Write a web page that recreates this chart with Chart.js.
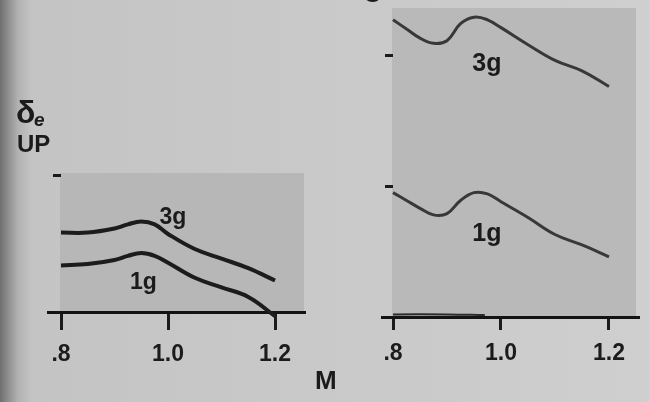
<!DOCTYPE html>
<html>
<head>
<meta charset="utf-8">
<script src="https://cdn.jsdelivr.net/npm/chart.js@4.4.1/dist/chart.umd.min.js"></script>
<style>
  html, body { margin: 0; padding: 0; }
  body {
    width: 649px; height: 402px; overflow: hidden; position: relative;
    background: linear-gradient(90deg, #6f6f6f 0px, #8e8e8e 8px, #b2b2b2 18px, #c4c4c4 32px, #cacaca 60%, #cfcfcf 100%);
    font-family: "Liberation Sans", Arial, sans-serif; color: #1b1b1b;
  }
  canvas { position: absolute; left: 0; top: 0; }
  .txt { position: absolute; font-weight: bold; line-height: 1; white-space: nowrap; }
</style>
</head>
<body>
<canvas id="leftChart" width="649" height="402"></canvas>
<canvas id="rightChart" width="649" height="402"></canvas>

<div class="txt" style="left:16px; top:96px; font-size:32px;">δ</div>
<div class="txt" style="left:34px; top:110px; font-size:19px; font-style:italic;">e</div>
<div class="txt" style="left:17px; top:132px; font-size:24px;">UP</div>
<div class="txt" style="left:363px; top:-25px; font-size:32px;">δ</div>
<div class="txt" style="left:315px; top:367px; font-size:26px;">M</div>

<script>
  // Mach number ticks shared by both panels
  var xTicks = [0.8, 1.0, 1.2];
  var xTickLabels = ['.8', '1.0', '1.2'];

  // left panel (elevator up, 1g / 3g)
  var leftMach = [0.8, 0.85, 0.9, 0.925, 0.95, 0.975, 1.0, 1.05, 1.1, 1.15, 1.2];
  var left3g = [5.8, 5.8, 6.1, 6.4, 6.6, 6.4, 5.7, 4.6, 3.9, 3.2, 2.3];
  var left1g = [3.4, 3.5, 3.8, 4.1, 4.3, 4.1, 3.6, 2.5, 1.8, 1.1, -0.3];
  var leftYTicks = [10];

  // right panel
  var rightMach = [0.8, 0.825, 0.85, 0.875, 0.9, 0.925, 0.95, 0.975, 1.0, 1.05, 1.1, 1.15, 1.2];
  var right3g = [22.7, 22.0, 21.3, 20.9, 21.1, 22.4, 22.9, 22.7, 22.1, 20.8, 19.6, 18.8, 17.6];
  var right1g = [9.5, 8.9, 8.3, 7.8, 7.9, 8.9, 9.5, 9.4, 8.8, 7.6, 6.3, 5.5, 4.6];
  var rightTraceMach = [0.8, 0.9, 0.97];
  var rightTrace = [0.2, 0.2, 0.15];
  var rightYTicks = [10, 20];

  var ink = '#1b1b1b';

  function points(xs, ys) {
    return xs.map(function (x, i) { return { x: x, y: ys[i] }; });
  }

  // shaded plotting panel, starts at M = .8
  var panelShade = {
    id: 'panelShade',
    beforeDraw: function (chart, args, opts) {
      var ctx = chart.ctx, area = chart.chartArea;
      var x0 = Math.round(chart.scales.x.getPixelForValue(0.8)) - 1;
      ctx.save();
      ctx.fillStyle = opts.color;
      ctx.fillRect(x0, area.top, area.right - opts.inset - x0, area.bottom - area.top - 1);
      ctx.restore();
    }
  };

  var seriesLabels = {
    id: 'seriesLabels',
    afterDatasetsDraw: function (chart, args, opts) {
      var ctx = chart.ctx, xs = chart.scales.x, ys = chart.scales.y;
      ctx.save();
      ctx.font = 'bold ' + opts.size + 'px "Liberation Sans", Arial, sans-serif';
      ctx.fillStyle = ink;
      ctx.textAlign = 'center';
      ctx.textBaseline = 'alphabetic';
      opts.items.forEach(function (it) {
        ctx.fillText(it.text, xs.getPixelForValue(it.x), ys.getPixelForValue(it.y));
      });
      ctx.restore();
    }
  };

  function makePanel(id, cfg) {
    return new Chart(document.getElementById(id), {
      type: 'line',
      data: { datasets: cfg.datasets },
      plugins: [panelShade, seriesLabels],
      options: {
        responsive: false,
        animation: false,
        layout: { padding: cfg.padding },
        elements: { point: { radius: 0 }, line: { tension: 0.4 } },
        plugins: {
          legend: { display: false },
          tooltip: { enabled: false },
          panelShade: { color: cfg.shade, inset: cfg.inset },
          seriesLabels: { size: cfg.labelSize, items: cfg.labels }
        },
        scales: {
          x: {
            type: 'linear',
            min: cfg.xMin,
            max: cfg.xMax,
            afterBuildTicks: function (s) { s.ticks = xTicks.map(function (v) { return { value: v }; }); },
            afterFit: function (s) { s.height = 60; },
            ticks: {
              autoSkip: false,
              maxRotation: 0,
              padding: cfg.xTickPad,
              color: ink,
              font: { family: '"Liberation Sans", Arial, sans-serif', size: 23, weight: 'bold' },
              callback: function (v, i) { return xTickLabels[i]; }
            },
            grid: { drawOnChartArea: false, tickLength: cfg.xTickLen, tickWidth: 3, color: ink },
            border: { color: '#131313', width: 3 }
          },
          y: {
            type: 'linear',
            axis: 'y',
            position: { x: 0.8 },
            min: 0,
            max: cfg.yMax,
            afterBuildTicks: function (s) { s.ticks = cfg.yTicks.map(function (v) { return { value: v }; }); },
            ticks: { display: false },
            grid: { drawOnChartArea: false, tickLength: 8, tickWidth: 3, color: ink },
            border: { display: false }
          }
        }
      }
    });
  }

  makePanel('leftChart', {
    padding: { left: 48, right: 344, top: 173, bottom: 30 },
    xMin: 0.7757, xMax: 1.256, yMax: 10.15,
    yTicks: leftYTicks,
    xTickLen: 18, xTickPad: 11,
    shade: '#b7b7b7', inset: 1,
    labelSize: 23,
    labels: [
      { text: '3g', x: 1.009, y: 6.4 },
      { text: '1g', x: 0.954, y: 1.7 }
    ],
    datasets: [
      { label: '3g', data: points(leftMach, left3g), borderColor: '#1c1c1c', borderWidth: 4, clip: false },
      { label: '1g', data: points(leftMach, left1g), borderColor: '#1c1c1c', borderWidth: 4, clip: false }
    ]
  });

  makePanel('rightChart', {
    padding: { left: 382, right: 10, top: 8, bottom: 25 },
    xMin: 0.7796, xMax: 1.2556, yMax: 23.6,
    yTicks: rightYTicks,
    xTickLen: 13, xTickPad: 10,
    shade: '#b9b9b9', inset: 3,
    labelSize: 25,
    labels: [
      { text: '3g', x: 0.974, y: 18.8 },
      { text: '1g', x: 0.974, y: 5.8 }
    ],
    datasets: [
      { label: '3g', data: points(rightMach, right3g), borderColor: '#383838', borderWidth: 3, clip: false },
      { label: '1g', data: points(rightMach, right1g), borderColor: '#383838', borderWidth: 3, clip: false },
      { label: 'trace', data: points(rightTraceMach, rightTrace), borderColor: '#2a2a2a', borderWidth: 2, clip: false }
    ]
  });
</script>
</body>
</html>
